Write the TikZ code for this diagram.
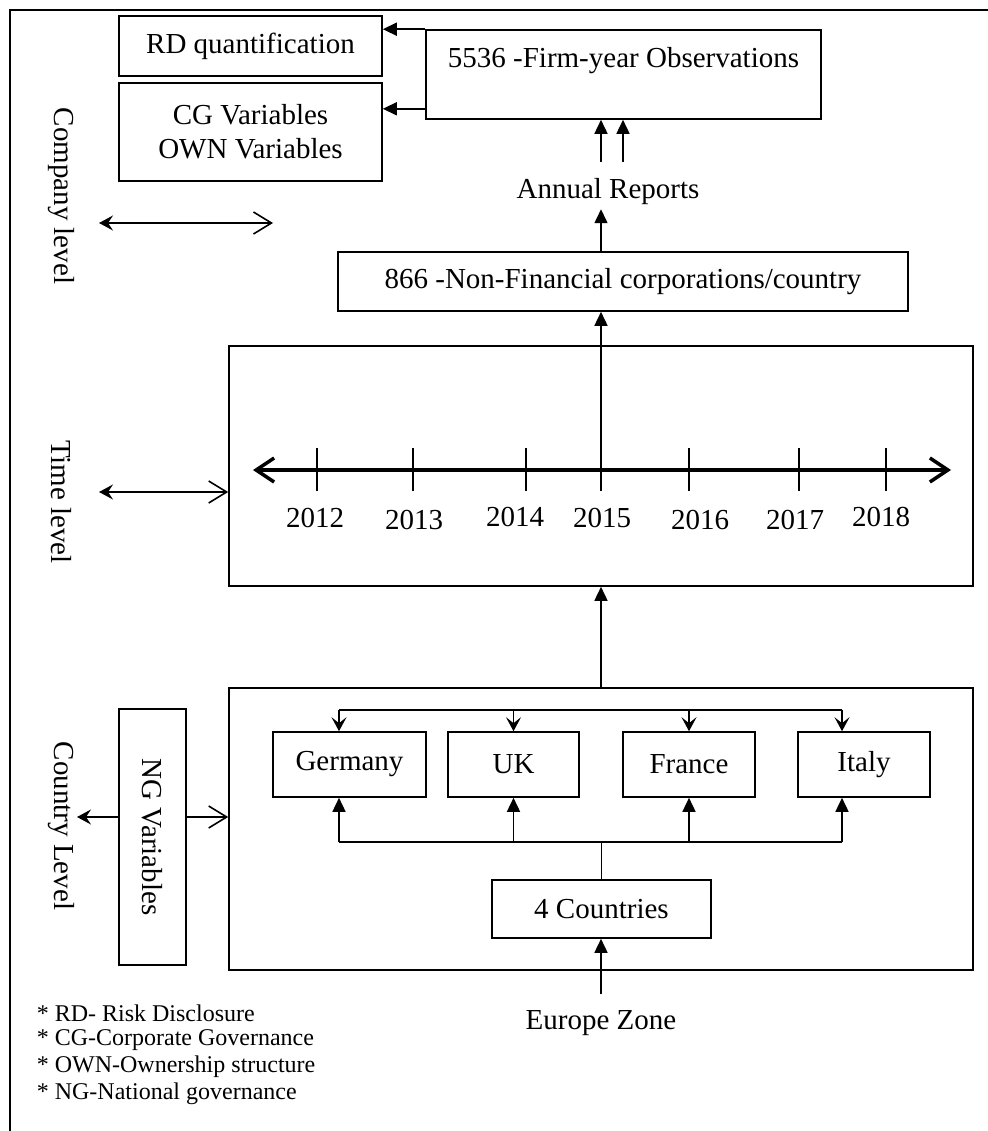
\documentclass[tikz,border=0pt]{standalone}
\usepackage{fontspec}
\setmainfont{Liberation Serif}
\usetikzlibrary{arrows.meta,calc}
\begin{document}
\begin{tikzpicture}[x=1pt,y=-1pt,
  line width=1.6pt,
  every node/.style={font=\fontsize{29}{34}\selectfont, inner sep=3.3pt},
  box/.style={draw, line width=1.6pt, align=center},
  tri/.style={-{Triangle[length=14pt,width=13pt]}},
  drop/.style={-{Stealth[length=14pt,width=15pt,inset=6pt]}},
  barb/.style={-{Straight Barb[length=18pt,width=22pt]}},
  link/.style={{Stealth[length=14pt,width=15pt,inset=5pt]}-{Straight Barb[length=18pt,width=22pt]}},
  lvl/.style={rotate=-90},
  note/.style={font=\fontsize{24}{27}\selectfont, anchor=west, inner sep=0pt}
]
\useasboundingbox (0,0) rectangle (987,1131);

% outer frame (top and left edges)
\draw (10,1140) -- (10,10) -- (995,10);

% ---------- company level ----------
\node[box, minimum width=263pt, minimum height=60pt] (rd) at (250.5,46) {RD quantification};
\node[box, minimum width=263pt, minimum height=98pt] (cg) at (250.5,132) {CG Variables\\OWN Variables};
\node[box, minimum width=395pt, minimum height=89pt] (obs) at (623.5,74.5) {5536 -Firm-year Observations\\\mbox{}};
\node (ann) at (608,192) {Annual Reports};
\node[box, minimum width=570pt, minimum height=59pt] (nfc) at (623,281.5) {866 -Non-Financial corporations/country};

\draw[tri] (obs.north west) -- (obs.north west -| rd.east);
\coordinate (o2) at ($(obs.south west)+(0,-11)$);
\draw[tri] (o2) -- (o2 -| cg.east);

\coordinate (a1) at ([xshift=-7pt,yshift=13pt]ann.north);
\coordinate (a2) at ([xshift=15pt,yshift=13pt]ann.north);
\draw[tri] (a1) -- (a1 |- obs.south);
\draw[tri] (a2) -- (a2 |- obs.south);
\draw[tri] (nfc.north -| a1) -- (ann.south -| a1);

% ---------- time level ----------
\node[box, minimum width=744pt, minimum height=240pt] (tbox) at (601,466) {};
\coordinate (axL) at (253,470);
\coordinate (axR) at (951,470);
\draw[line width=3.5pt, {Straight Barb[length=18pt,width=24pt]}-{Straight Barb[length=18pt,width=24pt]}] (axL) -- (axR);
\foreach \tx/\yr/\lx/\ly in {317/2012/315/518, 413/2013/414/520, 526/2014/515/517,
  601/2015/602/518, 689/2016/700/520, 799/2017/795/520, 886/2018/881/517}{
  \draw[line width=2pt] (\tx,448) -- (\tx,491);
  \node (yr\yr) at (\lx,\ly) {\yr};
}
\coordinate (t2015) at (601,470);
\draw[tri] (t2015) -- (t2015 |- nfc.south);

% ---------- country level ----------
\node[box, minimum width=744pt, minimum height=282pt] (cbox) at (601,829) {};
\draw[tri] (cbox.north) -- (tbox.south);

\node[box, minimum width=153pt, minimum height=65pt] (de) at (349.5,764.5) {Germany};
\node[box, minimum width=131pt, minimum height=65pt] (uk) at (513.5,764.5) {UK};
\node[box, minimum width=132pt, minimum height=65pt] (fr) at (689,764.5) {France};
\node[box, minimum width=132pt, minimum height=65pt] (it) at (864,764.5) {Italy};
\node[box, minimum width=219pt, minimum height=58pt] (four) at (601.5,909) {4 Countries};
\node (eu) at (601,1023) {Europe Zone};

% distribution from the top
\coordinate (topL) at (339,710);
\coordinate (topR) at (842,710);
\draw (topL) -- (topR);
\draw[drop] (topL) -- (topL |- de.north);
\draw[drop] (uk.north |- topL) -- (uk.north);
\draw[drop] (fr.north |- topL) -- (fr.north);
\draw[drop] (topR) -- (topR |- it.north);

% collection from 4 Countries
\coordinate (busL) at (339,842);
\coordinate (busR) at (842,842);
\draw (busL) -- (busR);
\draw (four.north) -- (four.north |- busL);
\draw[tri] (busL) -- (busL |- de.south);
\draw[tri] (uk.south |- busL) -- (uk.south);
\draw[tri] (fr.south |- busL) -- (fr.south);
\draw[tri] (busR) -- (busR |- it.south);

\coordinate (e1) at ([yshift=12pt]eu.north);
\draw[tri] (e1) -- (e1 |- four.south);

% NG variables
\node[box, minimum width=67pt, minimum height=256pt] (ng) at (152.5,837) {\rotatebox{-90}{NG Variables}};
\coordinate (ngl) at (77,817);
\draw[-{Stealth[length=14pt,width=15pt,inset=5pt]}] (ngl -| ng.west) -- (ngl);
\draw[barb] (ngl -| ng.east) -- (ngl -| cbox.west);

% ---------- level labels and side arrows ----------
\node[lvl] (lc) at (61,196) {Company level};
\node[lvl] (lt) at (61,502) {Time level};
\node[lvl] (lk) at (61,826) {Country Level};

\coordinate (cl1) at (99,223);
\coordinate (cl2) at (273,223);
\draw[link] (cl1) -- (cl2);
\coordinate (tl1) at (99,492);
\draw[link] (tl1) -- (tl1 -| tbox.west);

% ---------- abbreviations ----------
\node[note] (n1) at (36,1013) {* RD- Risk Disclosure};
\node[note] (n2) at (36,1040) {* CG-Corporate Governance};
\node[note] (n3) at (36,1067) {* OWN-Ownership structure};
\node[note] (n4) at (36,1094) {* NG-National governance};
\end{tikzpicture}
\end{document}
